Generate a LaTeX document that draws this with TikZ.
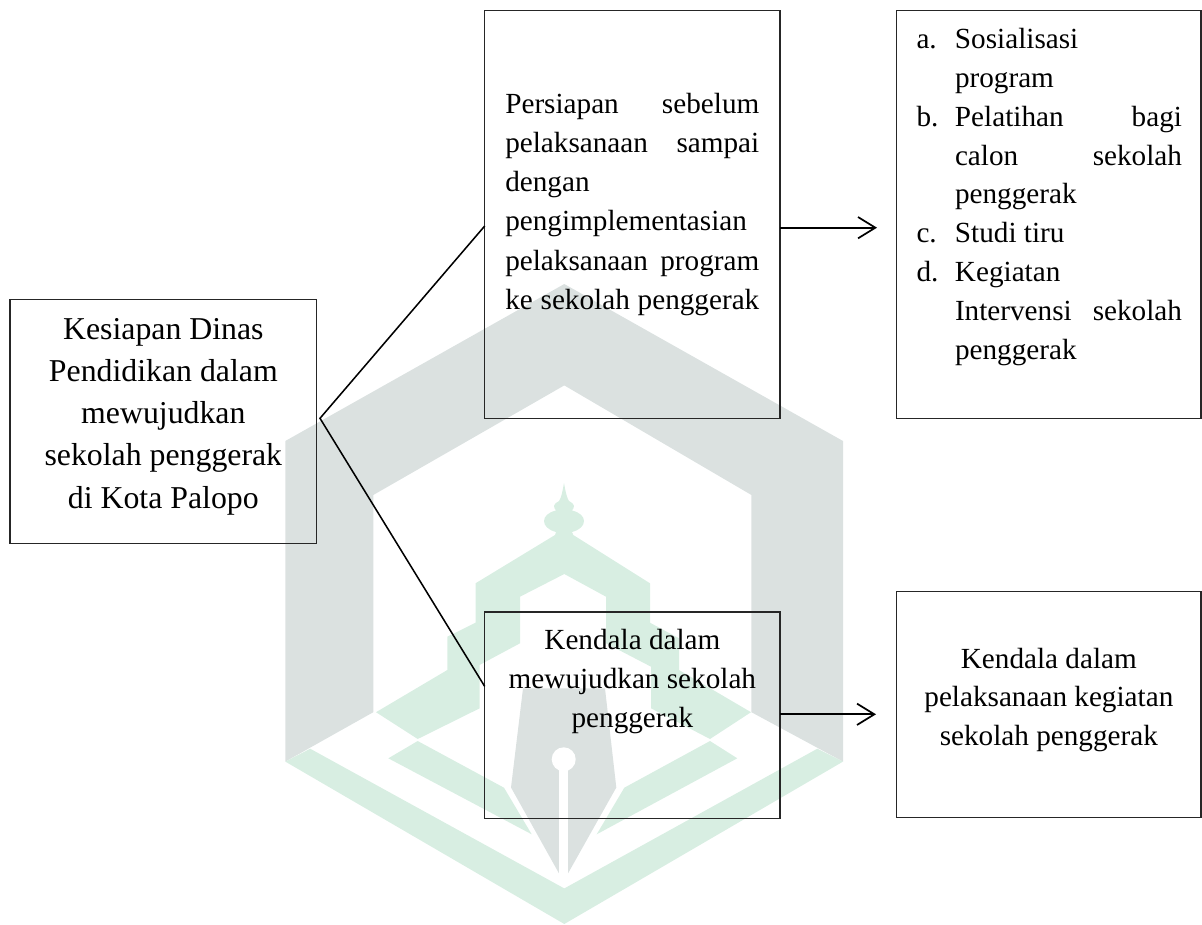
\documentclass[tikz,border=0pt]{standalone}
\usepackage{fontspec}
\setmainfont{Liberation Serif}
\usetikzlibrary{arrows.meta}
\definecolor{wmgray}{HTML}{DBE1E0}
\definecolor{wmgreen}{HTML}{D8EEE2}
\newlength\pxu
\setlength\pxu{0.75pt}
% #1 width, #2 height, #3 first baseline below top, #4 font size, #5 leading, #6 content
\newcommand\boxtext[6]{\parbox[c][#2\pxu][t]{#1\pxu}{\fontsize{#4\pxu}{#5\pxu}\selectfont
  \vspace*{\dimexpr #3\pxu-\ht\strutbox\relax}\leavevmode\strut #6}}
\newcommand\fillline[2]{\makebox[#1\pxu][s]{#2}}
\tikzset{
  frame/.style={draw=black!85,line width=1pt,rectangle,inner sep=0pt,outer sep=0pt,anchor=north west},
  link/.style={draw=black,line width=1.15pt},
  flow/.style={draw=black,line width=1.6pt,-{Straight Barb[length=13pt,width=16pt,line width=1.3pt]}}
}
\begin{document}
\begin{tikzpicture}[x=0.75pt,y=-0.75pt]
\useasboundingbox (0,0) rectangle (1202,924);
% watermark
\begin{scope}
\clip (0,0) rectangle (1202,924);
\fill[wmgray] (285.3,441) -- (564.3,284) -- (843,441) -- (843,761.6) -- (751.4,712.2) -- (751.4,495) -- (564.3,385.4) -- (373.3,495) -- (373.3,712.2) -- (285.3,761.6) -- cycle;
\fill[wmgreen] (285.3,761.6) -- (310.2,748.7) -- (564.3,888.4) -- (817.3,748.7) -- (843,761.6) -- (564.3,924) -- cycle;
\fill[wmgreen] (376,712.2) -- (447.3,670) -- (447.3,636.7) -- (475.5,622.7) -- (475.5,583.3) -- (555,535) -- (556,532) .. controls (540,528) and (540,514) .. (556,510.5) .. controls (553,507) and (553,504) .. (559,501) .. controls (561,498) and (562,494) .. (564,483) .. controls (566,494) and (567,498) .. (569,501) .. controls (575,504) and (575,507) .. (572,510.5) .. controls (588,514) and (588,528) .. (572,532) -- (573.3,535) -- (650,583.3) -- (650,622.7) -- (679,638.3) -- (679,670) -- (751,712.2) -- (710,739) -- (651,708.3) -- (651,666.7) -- (606,643.3) -- (606,596.7) -- (564.3,574) -- (520,596.7) -- (520,643.3) -- (479.7,664.9) -- (479.7,708.3) -- (417.7,739) -- cycle;
\fill[wmgreen] (417.7,741) -- (504,787.7) -- (531.7,834.3) -- (388.3,758.3) -- cycle;
\fill[wmgreen] (710,741) -- (737.3,758.3) -- (596.7,834.3) -- (624.3,787.7) -- cycle;
\fill[wmgray] (523,688.4) -- (605,688.4) -- (616.3,787.5) -- (568,873.4) -- (559,873.4) -- (511,787.5) -- cycle;
\fill[white] (559,760) rectangle (567.5,880);
\fill[white] (563.7,759.3) circle [radius=12];
\end{scope}
% boxes
\node[frame] (A) at (10,299.7) {\boxtext{306.7}{243.6}{39.3}{31.8}{42.3}{\centering Kesiapan Dinas\\Pendidikan dalam\\mewujudkan\\sekolah penggerak\\di Kota Palopo}};
\node[frame] (B) at (484.7,10.7) {\boxtext{295.4}{407.6}{102.5}{29.2}{39.2}{\leftskip=20.6\pxu\relax\fillline{254}{Persiapan sebelum}\\\fillline{254}{pelaksanaan sampai}\\dengan\\pengimplementasian\\\fillline{254}{pelaksanaan program}\\\fillline{254}{ke sekolah penggerak}}};
\node[frame] (C) at (896.7,10.7) {\boxtext{304.3}{407.6}{37.6}{29.2}{38.9}{\leftskip=19.8\pxu\relax\makebox[38.5\pxu][l]{a.}Sosialisasi\\\hspace*{38.5\pxu}program\\\makebox[38.5\pxu][l]{b.}\fillline{227}{Pelatihan bagi}\\\hspace*{38.5\pxu}\fillline{227}{calon sekolah}\\\hspace*{38.5\pxu}penggerak\\\makebox[38.5\pxu][l]{c.}Studi tiru\\\makebox[38.5\pxu][l]{d.}Kegiatan\\\hspace*{38.5\pxu}\fillline{227}{Intervensi sekolah}\\\hspace*{38.5\pxu}penggerak}};
\node[frame] (D) at (484.7,612) {\boxtext{295.4}{206.4}{37}{29.2}{39}{\centering Kendala dalam\\mewujudkan sekolah\\penggerak}};
\node[frame] (E) at (896.7,591.7) {\boxtext{304.3}{226}{76.6}{29.2}{38.5}{\centering Kendala dalam\\pelaksanaan kegiatan\\sekolah penggerak}};
% connectors
\coordinate (fork) at (320,418.3);
\coordinate (Bin) at (484.7,226);
\coordinate (Din) at (484.7,686.4);
\coordinate (Bout) at (877,227.7);
\coordinate (Dout) at (876,714.3);
\draw[link] (Bin) -- (fork) -- (Din);
\draw[flow] (B.east |- Bout) -- (Bout);
\draw[flow] (D.east |- Dout) -- (Dout);
\end{tikzpicture}
\end{document}
